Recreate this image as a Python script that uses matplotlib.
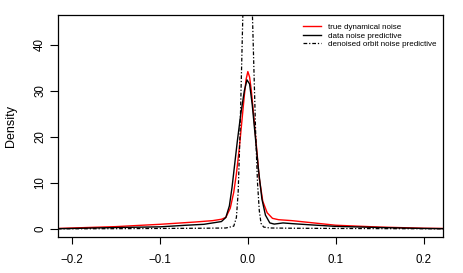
import matplotlib
matplotlib.use("Agg")
import matplotlib.pyplot as plt

plt.rcParams['font.family'] = ['Liberation Sans', 'DejaVu Sans']

# true dynamical noise density
true_x = [-0.216, -0.2, -0.15, -0.1, -0.06, -0.04, -0.03, -0.025, -0.02, -0.016,
          -0.013, -0.010, -0.007, -0.004, -0.002, 0.0, 0.002, 0.004, 0.007, 0.010,
          0.013, 0.017, 0.022, 0.028, 0.035, 0.05, 0.1, 0.15, 0.2, 0.222]
true_y = [0.1, 0.2, 0.5, 1.0, 1.5, 1.8, 2.1, 2.5, 4.5, 8,
          12, 17, 23, 29, 32.5, 34.2, 33, 30, 24, 17.5,
          11, 6, 3.5, 2.3, 2.0, 1.8, 0.8, 0.4, 0.15, 0.1]

# data noise predictive
data_x = [-0.216, -0.2, -0.15, -0.1, -0.07, -0.05, -0.04, -0.03, -0.025, -0.021,
          -0.018, -0.015, -0.012, -0.008, -0.004, -0.001, 0.002, 0.005, 0.008, 0.012,
          0.016, 0.020, 0.025, 0.03, 0.04, 0.05, 0.07, 0.1, 0.15, 0.2, 0.222]
data_y = [0.05, 0.1, 0.3, 0.45, 0.8, 1.0, 1.3, 1.6, 2.5, 5,
          9, 14, 19, 25, 30, 32.4, 31.5, 27, 21, 13,
          6.5, 3, 1.3, 1.05, 1.3, 1.15, 0.9, 0.55, 0.3, 0.1, 0.05]

# denoised orbit noise predictive
orbit_x = [-0.216, -0.15, -0.1, -0.05, -0.025, -0.016, -0.013, -0.011, -0.009, -0.007,
           -0.005, -0.003, 0.0, 0.003, 0.005, 0.007, 0.009, 0.011, 0.013, 0.015,
           0.018, 0.025, 0.05, 0.1, 0.15, 0.222]
orbit_y = [0.02, 0.05, 0.1, 0.15, 0.2, 0.6, 2.5, 8, 20, 36,
           52, 70, 85, 68, 48, 34, 20, 10, 4, 1.2,
           0.4, 0.2, 0.15, 0.1, 0.06, 0.02]

xticks = [-0.2, -0.1, 0.0, 0.1, 0.2]
xticklabels = ['\u22120.2', '\u22120.1', '0.0', '0.1', '0.2']
yticks = [0, 10, 20, 30, 40]

fig = plt.figure(figsize=(4.63, 2.73), dpi=100)
ax = fig.add_axes([0.125, 0.132, 0.832, 0.813])

ax.plot(true_x, true_y, color='red', lw=1.0, label='true dynamical noise')
ax.plot(data_x, data_y, color='black', lw=1.0, label='data noise predictive')
ax.plot(orbit_x, orbit_y, color='black', lw=0.9, linestyle=(0, (3, 1.5, 1, 1.5)),
        label='denoised orbit noise predictive')

ax.set_xlim(-0.216, 0.222)
ax.set_ylim(-1.75, 46.5)
ax.set_xticks(xticks)
ax.set_xticklabels(xticklabels)
ax.set_yticks(yticks)
ax.set_yticklabels([str(v) for v in yticks], rotation=90, va='center')
ax.tick_params(axis='both', labelsize=8.3, width=0.8, direction='out')
ax.tick_params(axis='x', length=5, pad=7)
ax.tick_params(axis='y', length=6, pad=2.5)
ax.set_ylabel('Density', fontsize=9, labelpad=12)

for s in ax.spines.values():
    s.set_linewidth(0.9)

ax.legend(loc='upper left', fontsize=5.8, frameon=False, handlelength=2.3,
          handletextpad=0.8, labelspacing=0.1, borderpad=0, borderaxespad=0,
          bbox_to_anchor=(0.636, 0.962))

fig.savefig('out.png', dpi=100)
